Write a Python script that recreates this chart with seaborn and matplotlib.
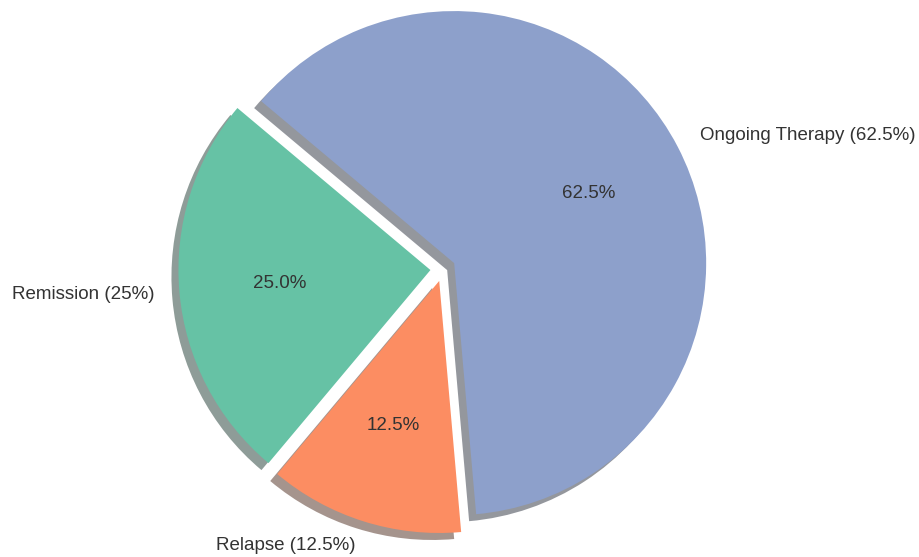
import matplotlib
matplotlib.use("Agg")
import matplotlib.pyplot as plt
import seaborn as sns

# Treatment outcome shares
categories = ["Remission", "Relapse", "Ongoing Therapy"]
shares = [25, 12.5, 62.5]
label_texts = ["Remission (25%)", "Relapse (12.5%)", "Ongoing Therapy (62.5%)"]

sns.set_theme(style="white")
plt.rcParams["font.family"] = ["Liberation Sans", "DejaVu Sans"]
plt.rcParams["text.color"] = "#333333"

colors = sns.color_palette("Set2", 3)

fig = plt.figure(figsize=(9.19, 5.57), dpi=100)
ax = fig.add_axes([0, 0, 1, 1])

wedges, texts, autotexts = ax.pie(
    shares,
    labels=label_texts,
    colors=colors,
    explode=[0.05, 0.05, 0.05],
    startangle=140,
    autopct="%1.1f%%",
    shadow={"ox": -0.02, "oy": -0.02, "shade": 0.7, "edgecolor": "none"},
    wedgeprops={"linewidth": 0, "edgecolor": "none"},
    textprops={"fontsize": 13.5, "color": "#333333"},
)

ax.set_xlim(-1.758, 1.889)
ax.set_ylim(-1.143, 1.067)
ax.set_aspect("auto")
ax.axis("off")

fig.savefig("out.png", dpi=100)
